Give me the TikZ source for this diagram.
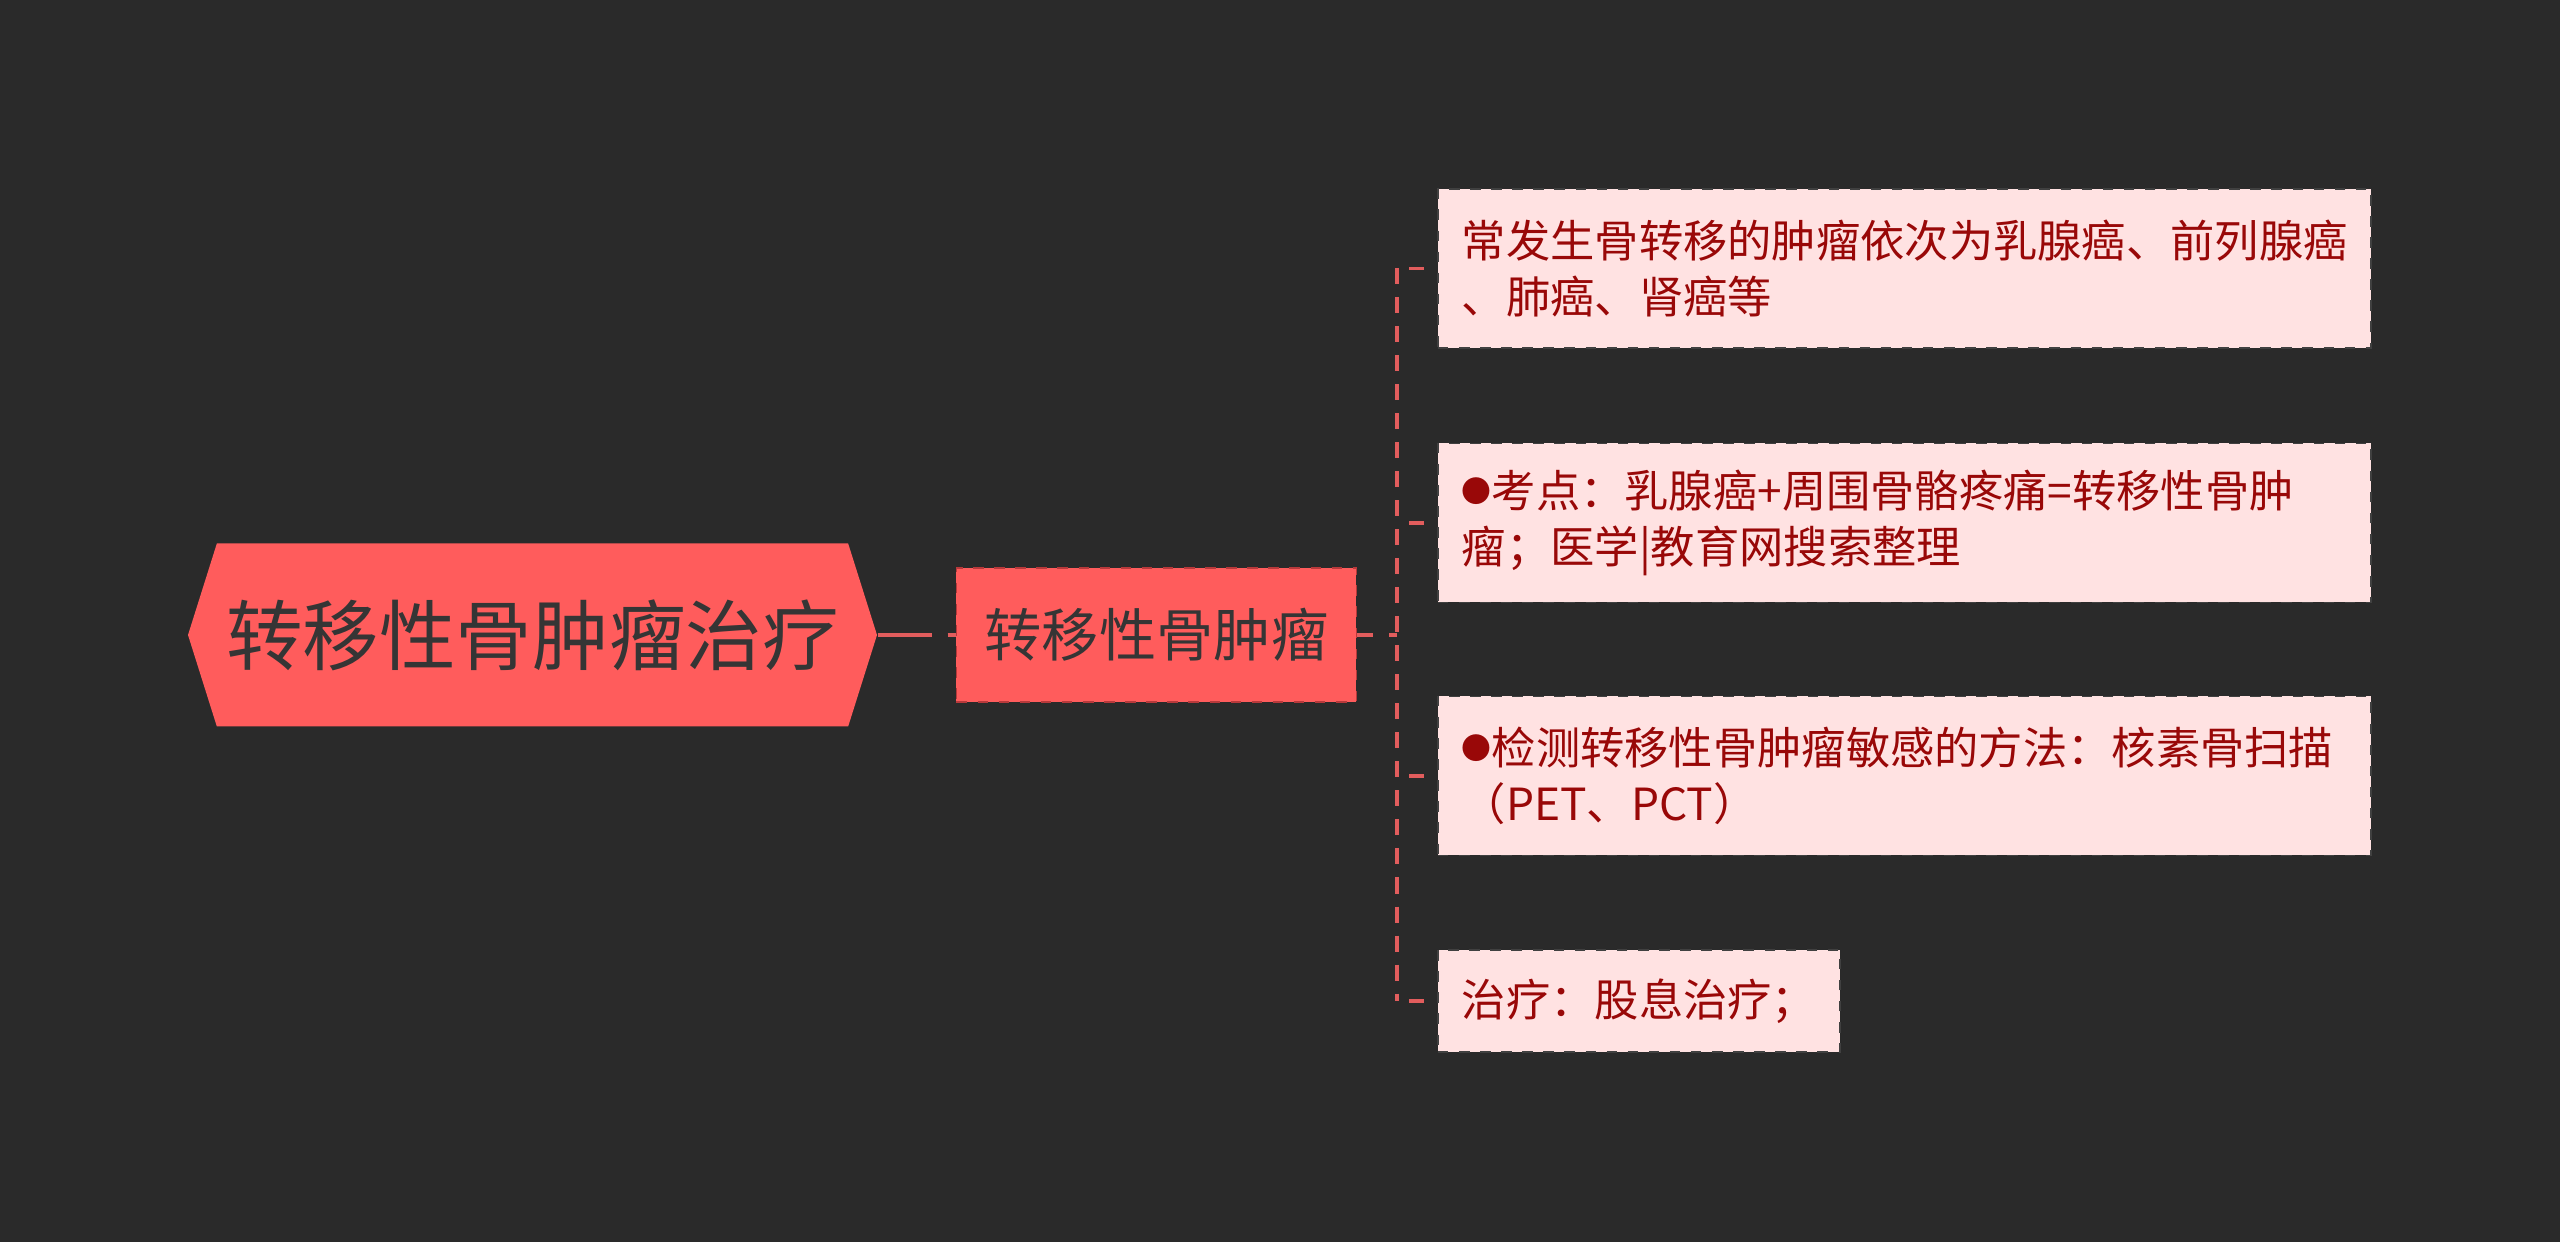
\documentclass[tikz,border=0pt]{standalone}
\usepackage{fontspec}
\newfontfamily\cjk{Noto Sans CJK SC}
\usetikzlibrary{shapes.symbols, positioning}
\definecolor{bgdark}{HTML}{2A2A2A}
\definecolor{rootred}{HTML}{FF5C5C}
\definecolor{linkred}{HTML}{E25D5D}
\definecolor{midborder}{HTML}{B8393B}
\definecolor{leaffill}{HTML}{FFE2E2}
\definecolor{leaftext}{HTML}{990808}
\definecolor{darktext}{HTML}{353535}
\newcommand{\dotmark}{\raisebox{1.4pt}{\fontsize{8.5pt}{10pt}\selectfont ●}}

\begin{document}
\begin{tikzpicture}[
    root/.style={signal, signal to=west and east, signal pointer angle=145, fill=rootred, minimum width=6.89cm, minimum height=1.83cm, inner sep=0pt, text=darktext, font=\cjk\fontsize{21.8pt}{26pt}\selectfont},
    topic/.style={draw=midborder, dashed, fill=rootred, minimum width=4cm, minimum height=1.34cm, inner sep=0pt, text=darktext, font=\cjk\fontsize{16.3pt}{20pt}\selectfont},
    leaf/.style={draw=black!75, dashed, line width=0.5pt, fill=leaffill, anchor=west, inner xsep=0.24cm, align=left, text=leaftext, font=\cjk\fontsize{12.6pt}{15.8pt}\selectfont},
    link/.style={draw=linkred, line width=1.1pt},
    spine/.style={link, dash pattern=on 0.16cm off 0.13cm}
]
\fill[bgdark] (0,0) rectangle (25.6,12.42);
\useasboundingbox (0,0) rectangle (25.6,12.42);

\node[root] (root) at (5.325,6.07) {转移性骨肿瘤治疗};
\node[topic, right=0.78cm of root] (mid) {转移性骨肿瘤};

% branches
\node[leaf, text width=8.85cm, minimum height=1.59cm] (l1) at (14.37,9.735) {常发生骨转移的肿瘤依次为乳腺癌、前列腺癌\\、肺癌、肾癌等};
\node[leaf, text width=8.85cm, minimum height=1.59cm] (l2) at (14.37,7.19) {\dotmark 考点：乳腺癌+周围骨骼疼痛=转移性骨肿\\瘤；医学|教育网搜索整理};
\node[leaf, text width=8.85cm, minimum height=1.59cm] (l3) at (14.37,4.66) {\dotmark 检测转移性骨肿瘤敏感的方法：核素骨扫描\\（PET、PCT）};
\node[leaf, minimum height=1.02cm] (l4) at (14.37,2.41) {治疗：股息治疗；};

\coordinate (fork) at (13.97,6.07);

\draw[link, dash pattern=on 0.54cm off 0.16cm on 0.2cm off 0.2cm] (root.east) -- (mid.west);
\draw[link, dash pattern=on 0.16cm off 0.16cm on 0.2cm off 0.2cm] (mid.east) -- (fork);
\draw[spine] (fork |- l1.west) -- (fork |- l4.west);
\foreach \n in {l1,l2,l3,l4}
  \draw[link, dash pattern=on 0pt off 0.12cm on 0.15cm off 1cm] (fork |- \n.west) -- (\n.west);
\end{tikzpicture}
\end{document}
